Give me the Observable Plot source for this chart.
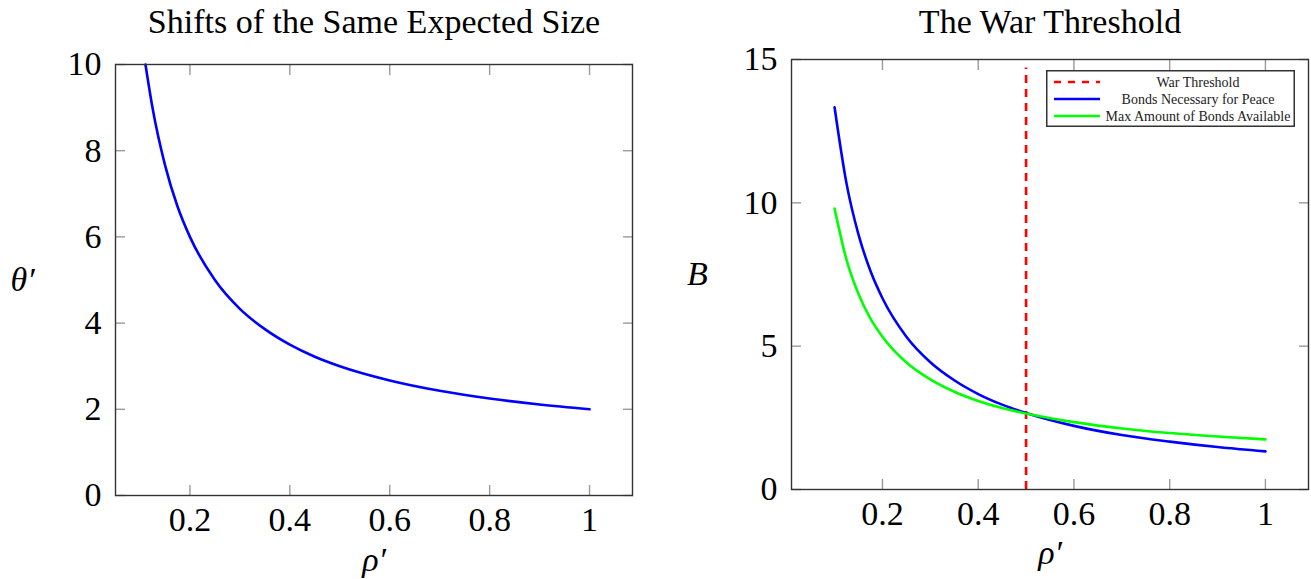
<!DOCTYPE html>
<html>
<head>
<meta charset="utf-8">
<script src="https://cdn.jsdelivr.net/npm/d3@7"></script>
<script src="https://cdn.jsdelivr.net/npm/@observablehq/plot@0.6"></script>
<style>
  html, body { margin: 0; padding: 0; background: #fff; }
  #wrap { position: relative; width: 1311px; height: 579px; overflow: hidden; }
  #left, #right { position: absolute; top: 0; }
  #left { left: 0; }
  #right { left: 655px; }
  #legend { position: absolute; left: 1046px; top: 70px; }
  svg { overflow: visible; }
</style>
</head>
<body>
<div id="wrap">
  <div id="left"></div>
  <div id="right"></div>
  <div id="legend"></div>
</div>
<script>
// ---- Data ----
// Left panel: "Shifts of the Same Expected Size"
const rhoLeft   = [0.111, 0.125, 0.15, 0.175, 0.2, 0.25, 0.3, 0.35, 0.4, 0.45, 0.5, 0.6, 0.7, 0.8, 0.9, 1.0];
const thetaLeft = [10.0, 9.0, 7.67, 6.71, 6.0, 5.0, 4.33, 3.86, 3.5, 3.22, 3.0, 2.67, 2.43, 2.25, 2.11, 2.0];

// Right panel: "The War Threshold"
const rhoRight    = [0.1, 0.125, 0.15, 0.175, 0.2, 0.25, 0.3, 0.35, 0.4, 0.45, 0.5, 0.6, 0.7, 0.8, 0.9, 1.0];
const bondsNeeded = [13.33, 10.67, 8.89, 7.62, 6.67, 5.33, 4.44, 3.81, 3.33, 2.96, 2.67, 2.22, 1.90, 1.67, 1.48, 1.33];
const bondsMax    = [9.80, 8.01, 6.82, 5.96, 5.33, 4.43, 3.84, 3.41, 3.09, 2.84, 2.65, 2.35, 2.13, 1.97, 1.85, 1.75];
const warThreshold = 0.5;
const warLineY = [0, 14.7];

const xTicks = [0.2, 0.4, 0.6, 0.8, 1];
const yTicksLeft = [0, 2, 4, 6, 8, 10];
const yTicksRight = [0, 5, 10, 15];

const legendItems = ["War Threshold", "Bonds Necessary for Peace", "Max Amount of Bonds Available"];
const titles = ["Shifts of the Same Expected Size", "The War Threshold"];

// ---- Styling ----
const FONT = "'Liberation Serif', 'DejaVu Serif', serif";
const fmt = d => String(d);
const tickColor = "#9a9a9a";
const frameColor = "#333";

function axes(xt, yt) {
  return [
    // labels
    Plot.axisX({anchor: "bottom", ticks: xt, tickSize: 0, tickPadding: 11, tickFormat: fmt, fontSize: 34, label: null, fill: "#000"}),
    Plot.axisY({anchor: "left", ticks: yt, tickSize: 0, tickPadding: 14, tickFormat: fmt, fontSize: 34, label: null, fill: "#000"}),
    // inward ticks on all four sides
    Plot.axisX({anchor: "bottom", ticks: xt, tickSize: -10, tickFormat: () => "", label: null, stroke: tickColor, strokeWidth: 1.4}),
    Plot.axisX({anchor: "top", ticks: xt, tickSize: -10, tickFormat: () => "", label: null, stroke: tickColor, strokeWidth: 1.4}),
    Plot.axisY({anchor: "left", ticks: yt, tickSize: -10, tickFormat: () => "", label: null, stroke: tickColor, strokeWidth: 1.4}),
    Plot.axisY({anchor: "right", ticks: yt, tickSize: -10, tickFormat: () => "", label: null, stroke: tickColor, strokeWidth: 1.4}),
  ];
}

// ---- Left chart ----
const leftData = rhoLeft.map((r, i) => ({rho: r, theta: thetaLeft[i]}));
const left = Plot.plot({
  width: 655, height: 579,
  marginLeft: 115, marginRight: 23, marginTop: 64, marginBottom: 84,
  style: {fontFamily: FONT, background: "white"},
  x: {domain: [0.051, 1.086]},
  y: {domain: [0, 10]},
  marks: [
    ...axes(xTicks, yTicksLeft),
    Plot.line(leftData, {x: "rho", y: "theta", stroke: "#0000ff", strokeWidth: 2.6, curve: "monotone-x"}),
    Plot.frame({stroke: frameColor, strokeWidth: 1.4}),
    Plot.text([titles[0]], {frameAnchor: "top", lineAnchor: "middle", dy: -42, fontSize: 34, fill: "#000"}),
    Plot.text(["θ′"], {frameAnchor: "left", textAnchor: "middle", dx: -93, fontSize: 34, fontStyle: "italic", fill: "#000"}),
    Plot.text(["ρ′"], {frameAnchor: "bottom", lineAnchor: "middle", dy: 65, fontSize: 34, fontStyle: "italic", fill: "#000"})
  ]
});
document.getElementById("left").appendChild(left);

// ---- Right chart ----
const rightData = [
  ...rhoRight.map((r, i) => ({rho: r, b: bondsNeeded[i], s: legendItems[1]})),
  ...rhoRight.map((r, i) => ({rho: r, b: bondsMax[i], s: legendItems[2]}))
];
const right = Plot.plot({
  width: 656, height: 579,
  marginLeft: 136, marginRight: 3, marginTop: 59, marginBottom: 90,
  style: {fontFamily: FONT, background: "white"},
  x: {domain: [0.01, 1.09]},
  y: {domain: [0, 15]},
  marks: [
    ...axes(xTicks, yTicksRight),
    Plot.ruleX([warThreshold], {x: d => d, y1: warLineY[0], y2: warLineY[1], stroke: "#ff0000", strokeWidth: 2.6, strokeDasharray: "8,6"}),
    Plot.line(rightData.filter(d => d.s === legendItems[1]), {x: "rho", y: "b", stroke: "#0000ff", strokeWidth: 2.6, curve: "monotone-x"}),
    Plot.line(rightData.filter(d => d.s === legendItems[2]), {x: "rho", y: "b", stroke: "#00ff00", strokeWidth: 2.6, curve: "monotone-x"}),
    Plot.frame({stroke: frameColor, strokeWidth: 1.4}),
    Plot.text([titles[1]], {frameAnchor: "top", lineAnchor: "middle", dy: -37, fontSize: 34, fill: "#000"}),
    Plot.text(["B"], {frameAnchor: "left", textAnchor: "middle", dx: -94, fontSize: 34, fontStyle: "italic", fill: "#000"}),
    Plot.text(["ρ′"], {frameAnchor: "bottom", lineAnchor: "middle", dy: 64, fontSize: 34, fontStyle: "italic", fill: "#000"})
  ]
});
document.getElementById("right").appendChild(right);

// ---- Legend ----
const legendColors = ["#ff0000", "#0000ff", "#00ff00"];
const legendDash = ["7,7", null, null];
const lw = 249, lh = 57;
const lsvg = d3.create("svg").attr("width", lw).attr("height", lh).style("font-family", FONT);
lsvg.append("rect").attr("x", 0.75).attr("y", 0.75).attr("width", lw - 1.5).attr("height", lh - 1.5)
  .attr("fill", "white").attr("stroke", frameColor).attr("stroke-width", 1.5);
legendItems.forEach((t, i) => {
  const cy = 12 + i * 17;
  lsvg.append("line").attr("x1", 8).attr("x2", 54).attr("y1", cy).attr("y2", cy)
    .attr("stroke", legendColors[i]).attr("stroke-width", 2.6)
    .attr("stroke-dasharray", legendDash[i]);
  lsvg.append("text").attr("x", 152).attr("y", cy).attr("dy", "0.35em")
    .attr("text-anchor", "middle").attr("font-size", 14).attr("fill", "#222").text(t);
});
document.getElementById("legend").appendChild(lsvg.node());
</script>
</body>
</html>
